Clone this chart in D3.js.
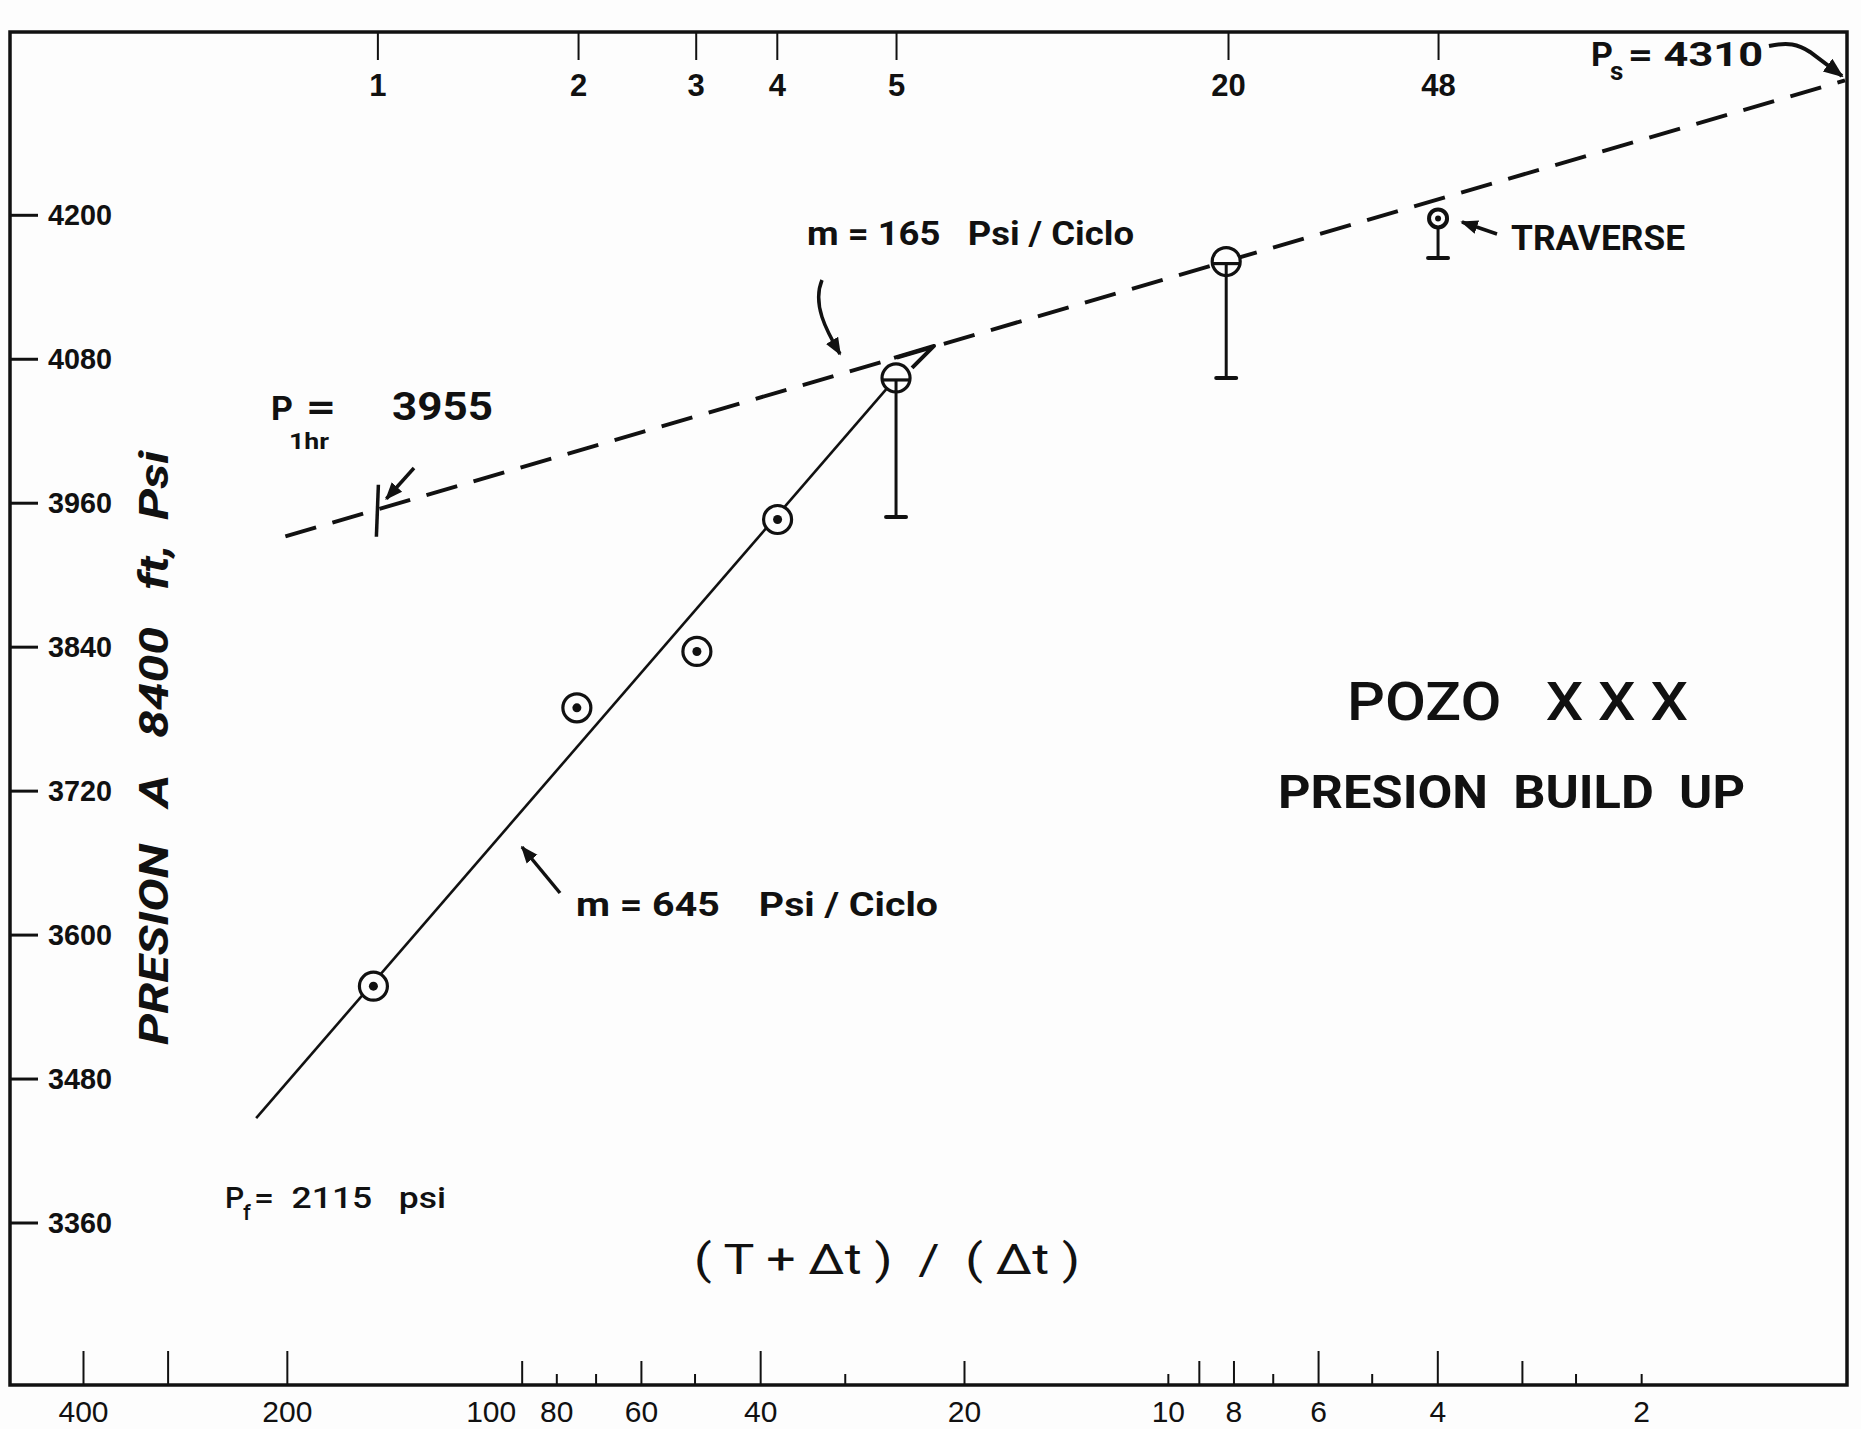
<!DOCTYPE html>
<html>
<head>
<meta charset="utf-8">
<script src="https://cdn.jsdelivr.net/npm/d3@7"></script>
<style>
body{margin:0;background:#fff;}
svg{display:block;font-family:Roboto,"DejaVu Sans",sans-serif;}
text{fill:#111;white-space:pre;}
</style>
</head>
<body>
<svg></svg>
<script>

//readings taken off the Horner plot
var hornerTime   = [149, 74.6, 49.6, 37.7, 25.2, 8.2, 3.99];
var pressure     = [3557, 3789, 3836, 3946, 4064, 4161, 4197];
var pressureLow  = [null, null, null, null, 3948, 4064, 4164];
var pointKind    = ["dot","dot","dot","dot","bar","bar","traverse"];

//straight lines drawn through the points
var earlyHorner   = [222, 25.2];
var earlyPressure = [3447, 4064];
var lateHorner    = [201, 1];
var latePressure  = [3932, 4312];
var oneHour       = [147, 3955];

//axes
var pressureTicks = [3360, 3480, 3600, 3720, 3840, 3960, 4080, 4200];
var hornerLabels  = [400, 200, 100, 80, 60, 40, 20, 10, 8, 6, 4, 2];
var hornerLong    = [400, 300, 200, 40, 6, 4];
var hornerMid     = [90, 60, 20, 9, 8, 3];
var hornerShort   = [80, 70, 50, 30, 10, 7, 5, 2.5, 2];
var shutInHorner  = [147, 74.3, 49.8, 37.8, 25.2, 8.15, 3.99];
var shutInHours   = ["1", "2", "3", "4", "5", "20", "48"];

var screen = {width:1861, height:1429};
var frame = {left:10, top:32, right:1847, bottom:1385};
var ink = "#111";

var svg = d3.select("svg")
    .attr("width", screen.width)
    .attr("height", screen.height);

svg.append("rect")
    .attr("width", screen.width)
    .attr("height", screen.height)
    .attr("fill", "#fdfdfd");

var xScale = d3.scaleLog()
    .domain([400, 1])
    .range([83, 1845]);

var yScale = d3.scaleLinear()
    .domain([3360, 4200])
    .range([1222.5, 214.8]);

var defs = svg.append("defs");
defs.append("marker")
    .attr("id", "head")
    .attr("viewBox", "0 0 10 10")
    .attr("refX", 9)
    .attr("refY", 5)
    .attr("markerWidth", 5)
    .attr("markerHeight", 5)
    .attr("markerUnits", "strokeWidth")
    .attr("orient", "auto")
    .append("path")
    .attr("d", "M0,1 L10,5 L0,9 Z")
    .attr("fill", ink);

var drawFrame = function()
{
    svg.append("rect")
        .attr("x", frame.left)
        .attr("y", frame.top)
        .attr("width", frame.right - frame.left)
        .attr("height", frame.bottom - frame.top)
        .attr("fill", "none")
        .attr("stroke", ink)
        .attr("stroke-width", 3.5);
}

var cleanAxis = function(g)
{
    g.select(".domain").remove();
    g.selectAll("line").attr("stroke", ink).attr("stroke-width", 2);
    g.selectAll("text").attr("fill", ink).attr("font-family", null);
}

var drawAxes = function()
{
    //bottom ticks, three lengths
    [[hornerLong, 34], [hornerMid, 24], [hornerShort, 11]].forEach(function(set)
    {
        svg.append("g")
            .attr("transform", "translate(0," + frame.bottom + ")")
            .call(d3.axisTop(xScale).tickValues(set[0]).tickSize(set[1]).tickFormat(""))
            .call(cleanAxis);
    });
    svg.append("g")
        .attr("transform", "translate(0," + frame.bottom + ")")
        .call(d3.axisBottom(xScale).tickValues(hornerLabels).tickSize(0).tickPadding(16)
              .tickFormat(d3.format("d")))
        .call(cleanAxis)
        .selectAll("text")
        .attr("font-size", 30)
        .attr("font-weight", 400);

    //top: shut-in hours
    svg.append("g")
        .attr("transform", "translate(0," + frame.top + ")")
        .call(d3.axisBottom(xScale).tickValues(shutInHorner).tickSize(28).tickPadding(14)
              .tickFormat(function(d, i) { return shutInHours[i]; }))
        .call(cleanAxis)
        .selectAll("text")
        .attr("font-size", 31)
        .attr("font-weight", 700);

    //left: pressure
    var left = svg.append("g")
        .attr("transform", "translate(" + frame.left + ",0)")
        .call(d3.axisRight(yScale).tickValues(pressureTicks).tickSize(28).tickPadding(10)
              .tickFormat(d3.format("d")))
        .call(cleanAxis);
    left.selectAll("line").attr("stroke-width", 3);
    left.selectAll("text")
        .attr("font-size", 30)
        .attr("font-weight", 700)
        .attr("textLength", 64)
        .attr("lengthAdjust", "spacingAndGlyphs");
}

var drawLines = function()
{
    var line = d3.line()
        .x(function(d) { return xScale(d[0]); })
        .y(function(d) { return yScale(d[1]); });

    svg.append("path")
        .datum(d3.zip(earlyHorner, earlyPressure))
        .attr("d", line)
        .attr("fill", "none")
        .attr("stroke", ink)
        .attr("stroke-width", 2.6);

    svg.append("path")
        .datum(d3.zip(lateHorner, latePressure))
        .attr("d", line)
        .attr("fill", "none")
        .attr("stroke", ink)
        .attr("stroke-width", 4)
        .attr("stroke-dasharray", "32,17");

    //P 1hr cross mark
    var cx = xScale(oneHour[0]), cy = yScale(oneHour[1]);
    svg.append("line")
        .attr("x1", cx + 1).attr("y1", cy - 24)
        .attr("x2", cx - 1).attr("y2", cy + 28)
        .attr("stroke", ink)
        .attr("stroke-width", 3.5);

    //little pen flourish at the 5 hr point
    var fx = xScale(hornerTime[4]), fy = yScale(pressure[4]);
    svg.append("path")
        .attr("d", "M" + (fx - 2) + "," + (fy - 20) + " L" + (fx + 38) + "," + (fy - 32)
              + " L" + (fx + 16) + "," + (fy - 10))
        .attr("fill", "none")
        .attr("stroke", ink)
        .attr("stroke-width", 4)
        .attr("stroke-linejoin", "round");
}

var drawPoints = function()
{
    var points = d3.range(hornerTime.length).map(function(i)
    {
        return {x:hornerTime[i], y:pressure[i], low:pressureLow[i], kind:pointKind[i]};
    });

    //error bars
    var bars = svg.append("g")
        .selectAll("g")
        .data(points.filter(function(p) { return p.low != null; }))
        .enter()
        .append("g");
    bars.append("line")
        .attr("x1", function(p) { return xScale(p.x); })
        .attr("x2", function(p) { return xScale(p.x); })
        .attr("y1", function(p) { return yScale(p.y); })
        .attr("y2", function(p) { return yScale(p.low); })
        .attr("stroke", ink)
        .attr("stroke-width", 3);
    bars.append("line")
        .attr("x1", function(p) { return xScale(p.x) - 10; })
        .attr("x2", function(p) { return xScale(p.x) + 10; })
        .attr("y1", function(p) { return yScale(p.low); })
        .attr("y2", function(p) { return yScale(p.low); })
        .attr("stroke", ink)
        .attr("stroke-width", 4)
        .attr("stroke-linecap", "round");

    var marks = svg.append("g")
        .selectAll("g")
        .data(points)
        .enter()
        .append("g")
        .attr("transform", function(p) { return "translate(" + xScale(p.x) + "," + yScale(p.y) + ")"; });

    marks.append("circle")
        .attr("r", function(p) { return p.kind == "traverse" ? 9 : 14; })
        .attr("fill", "#fdfdfd")
        .attr("stroke", ink)
        .attr("stroke-width", function(p) { return p.kind == "traverse" ? 4 : 3.2; });

    marks.filter(function(p) { return p.kind != "bar"; })
        .append("circle")
        .attr("r", function(p) { return p.kind == "traverse" ? 3 : 4.5; })
        .attr("fill", ink);

    marks.filter(function(p) { return p.kind == "bar"; })
        .append("line")
        .attr("x1", -13).attr("x2", 13)
        .attr("y1", 2).attr("y2", 2)
        .attr("stroke", ink)
        .attr("stroke-width", 3.2);
    marks.filter(function(p) { return p.kind == "bar"; })
        .append("line")
        .attr("x1", 0).attr("x2", 0)
        .attr("y1", 2).attr("y2", 14)
        .attr("stroke", ink)
        .attr("stroke-width", 3);
}

var addText = function(x, y, str, size, weight, width)
{
    var t = svg.append("text")
        .attr("x", x)
        .attr("y", y)
        .attr("font-size", size)
        .attr("font-weight", weight)
        .text(str);
    if (width) { t.attr("textLength", width).attr("lengthAdjust", "spacingAndGlyphs"); }
    return t;
}

var addArrow = function(d, w)
{
    svg.append("path")
        .attr("d", d)
        .attr("fill", "none")
        .attr("stroke", ink)
        .attr("stroke-width", w || 3.5)
        .attr("marker-end", "url(#head)");
}

var drawLabels = function()
{
    //P 1hr
    addText(271, 420, "P", 34, 700);
    addText(289, 449, "1hr", 22, 700, 40);
    addText(306, 420, "=", 38, 700, 30);
    addText(392, 420, "3955", 38, 700, 101);
    addArrow("M414,468 L" + (xScale(oneHour[0]) + 9) + "," + (yScale(oneHour[1]) - 10));

    //slopes
    addText(807, 245, "m = 165   Psi / Ciclo", 33, 700, 327);
    addArrow("M822,280 C812,304 826,330 840,354");
    addText(576, 916, "m = 645    Psi / Ciclo", 33, 700, 362);
    addArrow("M560,893 L522,847");

    //traverse
    addText(1511, 250, "TRAVERSE", 35, 700, 174);
    addArrow("M1497,234 L1462,222");

    //Ps
    addText(1591, 66, "P", 34, 700);
    addText(1610, 80, "s", 26, 700);
    addText(1628, 66, "= 4310", 34, 700, 135);
    addArrow("M1769,46 C1788,42 1798,44 1810,52 L1842,76", 4);

    //Pf
    addText(225, 1208, "P", 30, 500);
    addText(243, 1220, "f", 22, 500);
    addText(254, 1208, "=  2115   psi", 30, 500, 192);

    //titles
    addText(1347, 720, "POZO   X X X", 54, 500, 341);
    addText(1278, 808, "PRESION  BUILD  UP", 46, 700, 467);
    addText(694, 1274, "( T + \u0394t )  /  ( \u0394t )", 42, 400, 386);

    svg.append("text")
        .attr("transform", "translate(168,748) rotate(-90)")
        .attr("text-anchor", "middle")
        .attr("font-size", 40)
        .attr("font-weight", 700)
        .attr("font-style", "italic")
        .attr("textLength", 594)
        .attr("lengthAdjust", "spacingAndGlyphs")
        .text("PRESION   A   8400   ft,  Psi");
}

drawFrame();
drawAxes();
drawLines();
drawPoints();
drawLabels();
</script>
</body>
</html>
